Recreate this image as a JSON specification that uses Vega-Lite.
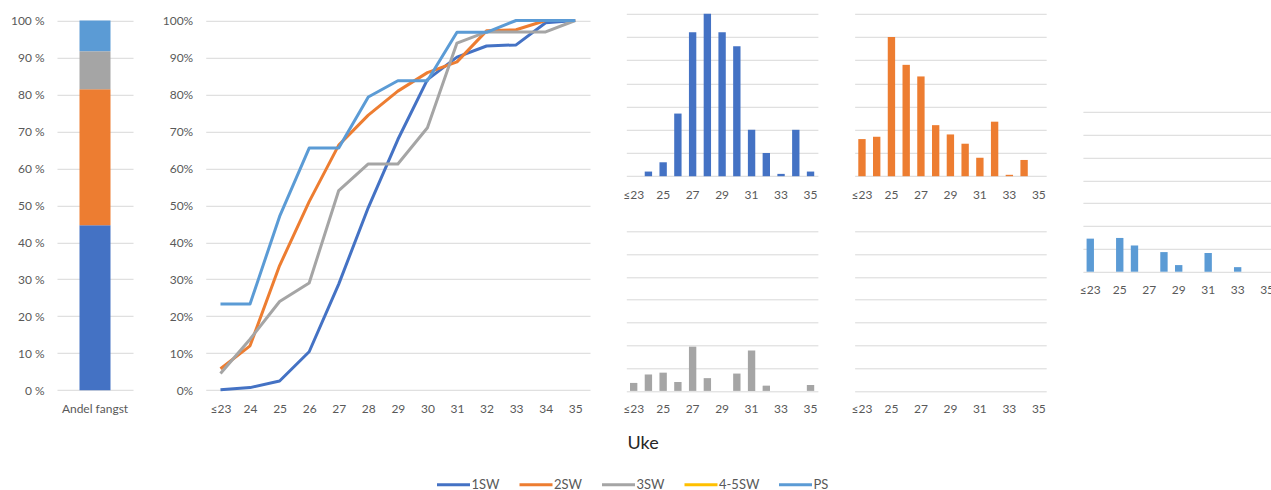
{
  "$schema": "https://vega.github.io/schema/vega-lite/v6.json",
  "background": "white",
  "padding": {"left": 10, "top": 13.8, "right": 0, "bottom": 0},
  "config": {
    "view": {"stroke": null},
    "font": "Lato",
    "axis": {
      "labelFont": "Lato",
      "labelFontSize": 12,
      "labelColor": "#595959",
      "domain": false,
      "ticks": false,
      "gridColor": "#d9d9d9",
      "gridWidth": 1,
      "labelPadding": 13
    },
    "legend": {
      "orient": "none", "legendX": 378.5, "legendY": 453, "direction": "horizontal",
      "symbolType": "stroke", "symbolSize": 1089, "symbolStrokeWidth": 3,
      "labelFont": "Lato", "labelFontSize": 13, "labelColor": "#595959",
      "columnPadding": 12.5, "labelOffset": 0, "gridAlign": "each"
    }
  },
  "datasets": {
    "fangst": [
      {"serie": "Andel fangst", "klasse": "1SW", "andel": 0.446},
      {"serie": "Andel fangst", "klasse": "2SW", "andel": 0.368},
      {"serie": "Andel fangst", "klasse": "3SW", "andel": 0.103},
      {"serie": "Andel fangst", "klasse": "4-5SW", "andel": 0},
      {"serie": "Andel fangst", "klasse": "PS", "andel": 0.083}
    ],
    "kumulativ": [
      {"uke": "≤23", "klasse": "1SW", "andel": 0.001},
      {"uke": "24", "klasse": "1SW", "andel": 0.007},
      {"uke": "25", "klasse": "1SW", "andel": 0.025},
      {"uke": "26", "klasse": "1SW", "andel": 0.104},
      {"uke": "27", "klasse": "1SW", "andel": 0.287},
      {"uke": "28", "klasse": "1SW", "andel": 0.494},
      {"uke": "29", "klasse": "1SW", "andel": 0.678},
      {"uke": "30", "klasse": "1SW", "andel": 0.84},
      {"uke": "31", "klasse": "1SW", "andel": 0.901},
      {"uke": "32", "klasse": "1SW", "andel": 0.931},
      {"uke": "33", "klasse": "1SW", "andel": 0.934},
      {"uke": "34", "klasse": "1SW", "andel": 0.994},
      {"uke": "35", "klasse": "1SW", "andel": 1.0},
      {"uke": "≤23", "klasse": "2SW", "andel": 0.058},
      {"uke": "24", "klasse": "2SW", "andel": 0.12},
      {"uke": "25", "klasse": "2SW", "andel": 0.337},
      {"uke": "26", "klasse": "2SW", "andel": 0.51},
      {"uke": "27", "klasse": "2SW", "andel": 0.663},
      {"uke": "28", "klasse": "2SW", "andel": 0.744},
      {"uke": "29", "klasse": "2SW", "andel": 0.809},
      {"uke": "30", "klasse": "2SW", "andel": 0.859},
      {"uke": "31", "klasse": "2SW", "andel": 0.888},
      {"uke": "32", "klasse": "2SW", "andel": 0.972},
      {"uke": "33", "klasse": "2SW", "andel": 0.975},
      {"uke": "34", "klasse": "2SW", "andel": 1.0},
      {"uke": "35", "klasse": "2SW", "andel": 1.0},
      {"uke": "≤23", "klasse": "3SW", "andel": 0.045},
      {"uke": "24", "klasse": "3SW", "andel": 0.138},
      {"uke": "25", "klasse": "3SW", "andel": 0.24},
      {"uke": "26", "klasse": "3SW", "andel": 0.29},
      {"uke": "27", "klasse": "3SW", "andel": 0.54},
      {"uke": "28", "klasse": "3SW", "andel": 0.612},
      {"uke": "29", "klasse": "3SW", "andel": 0.612},
      {"uke": "30", "klasse": "3SW", "andel": 0.71},
      {"uke": "31", "klasse": "3SW", "andel": 0.939},
      {"uke": "32", "klasse": "3SW", "andel": 0.969},
      {"uke": "33", "klasse": "3SW", "andel": 0.969},
      {"uke": "34", "klasse": "3SW", "andel": 0.969},
      {"uke": "35", "klasse": "3SW", "andel": 1.0},
      {"uke": "≤23", "klasse": "PS", "andel": 0.233},
      {"uke": "24", "klasse": "PS", "andel": 0.233},
      {"uke": "25", "klasse": "PS", "andel": 0.47},
      {"uke": "26", "klasse": "PS", "andel": 0.655},
      {"uke": "27", "klasse": "PS", "andel": 0.655},
      {"uke": "28", "klasse": "PS", "andel": 0.793},
      {"uke": "29", "klasse": "PS", "andel": 0.837},
      {"uke": "30", "klasse": "PS", "andel": 0.837},
      {"uke": "31", "klasse": "PS", "andel": 0.968},
      {"uke": "32", "klasse": "PS", "andel": 0.968},
      {"uke": "33", "klasse": "PS", "andel": 1.0},
      {"uke": "34", "klasse": "PS", "andel": 1.0},
      {"uke": "35", "klasse": "PS", "andel": 1.0}
    ],
    "ukentlig": [
      {"uke": "≤23", "klasse": "1SW", "antall": 0},
      {"uke": "24", "klasse": "1SW", "antall": 2},
      {"uke": "25", "klasse": "1SW", "antall": 6},
      {"uke": "26", "klasse": "1SW", "antall": 27},
      {"uke": "27", "klasse": "1SW", "antall": 62},
      {"uke": "28", "klasse": "1SW", "antall": 70},
      {"uke": "29", "klasse": "1SW", "antall": 62},
      {"uke": "30", "klasse": "1SW", "antall": 56},
      {"uke": "31", "klasse": "1SW", "antall": 20},
      {"uke": "32", "klasse": "1SW", "antall": 10},
      {"uke": "33", "klasse": "1SW", "antall": 1},
      {"uke": "34", "klasse": "1SW", "antall": 20},
      {"uke": "35", "klasse": "1SW", "antall": 2},
      {"uke": "≤23", "klasse": "2SW", "antall": 16},
      {"uke": "24", "klasse": "2SW", "antall": 17},
      {"uke": "25", "klasse": "2SW", "antall": 60},
      {"uke": "26", "klasse": "2SW", "antall": 48},
      {"uke": "27", "klasse": "2SW", "antall": 43},
      {"uke": "28", "klasse": "2SW", "antall": 22},
      {"uke": "29", "klasse": "2SW", "antall": 18},
      {"uke": "30", "klasse": "2SW", "antall": 14},
      {"uke": "31", "klasse": "2SW", "antall": 8},
      {"uke": "32", "klasse": "2SW", "antall": 23.5},
      {"uke": "33", "klasse": "2SW", "antall": 0.6},
      {"uke": "34", "klasse": "2SW", "antall": 7},
      {"uke": "35", "klasse": "2SW", "antall": 0},
      {"uke": "≤23", "klasse": "3SW", "antall": 3.5},
      {"uke": "24", "klasse": "3SW", "antall": 7.2},
      {"uke": "25", "klasse": "3SW", "antall": 8.0},
      {"uke": "26", "klasse": "3SW", "antall": 3.9},
      {"uke": "27", "klasse": "3SW", "antall": 19.4},
      {"uke": "28", "klasse": "3SW", "antall": 5.6},
      {"uke": "29", "klasse": "3SW", "antall": 0},
      {"uke": "30", "klasse": "3SW", "antall": 7.6},
      {"uke": "31", "klasse": "3SW", "antall": 17.7},
      {"uke": "32", "klasse": "3SW", "antall": 2.3},
      {"uke": "33", "klasse": "3SW", "antall": 0},
      {"uke": "34", "klasse": "3SW", "antall": 0},
      {"uke": "35", "klasse": "3SW", "antall": 2.6},
      {"uke": "≤23", "klasse": "4-5SW", "antall": 0},
      {"uke": "24", "klasse": "4-5SW", "antall": 0},
      {"uke": "25", "klasse": "4-5SW", "antall": 0},
      {"uke": "26", "klasse": "4-5SW", "antall": 0},
      {"uke": "27", "klasse": "4-5SW", "antall": 0},
      {"uke": "28", "klasse": "4-5SW", "antall": 0},
      {"uke": "29", "klasse": "4-5SW", "antall": 0},
      {"uke": "30", "klasse": "4-5SW", "antall": 0},
      {"uke": "31", "klasse": "4-5SW", "antall": 0},
      {"uke": "32", "klasse": "4-5SW", "antall": 0},
      {"uke": "33", "klasse": "4-5SW", "antall": 0},
      {"uke": "34", "klasse": "4-5SW", "antall": 0},
      {"uke": "35", "klasse": "4-5SW", "antall": 0},
      {"uke": "≤23", "klasse": "PS", "antall": 14.5},
      {"uke": "24", "klasse": "PS", "antall": 0},
      {"uke": "25", "klasse": "PS", "antall": 14.8},
      {"uke": "26", "klasse": "PS", "antall": 11.5},
      {"uke": "27", "klasse": "PS", "antall": 0},
      {"uke": "28", "klasse": "PS", "antall": 8.6},
      {"uke": "29", "klasse": "PS", "antall": 2.9},
      {"uke": "30", "klasse": "PS", "antall": 0},
      {"uke": "31", "klasse": "PS", "antall": 8.2},
      {"uke": "32", "klasse": "PS", "antall": 0},
      {"uke": "33", "klasse": "PS", "antall": 2.0},
      {"uke": "34", "klasse": "PS", "antall": 0},
      {"uke": "35", "klasse": "PS", "antall": 0}
    ]
  },
  "spacing": 32.3,
  "hconcat": [
    {
      "spacing": 72.7,
      "bounds": "flush",
      "hconcat": [
        {
          "width": 76,
          "height": 376.4,
          "data": {"name": "fangst"},
          "mark": {"type": "bar", "width": 31},
          "encoding": {
            "x": {"field": "serie", "type": "nominal", "title": null, "axis": {"labelAngle": 0}},
            "y": {
              "field": "andel", "type": "quantitative", "stack": "zero", "title": null,
              "scale": {"domain": [0, 1.0181], "nice": false},
              "axis": {"values": [0, 0.1, 0.2, 0.3, 0.4, 0.5, 0.6, 0.7, 0.8, 0.9, 1.0], "labelExpr": "replace(format(datum.value, '.0%'), '%', ' %')", "grid": true}
            },
            "color": {
              "field": "klasse", "type": "nominal",
              "scale": {"domain": ["1SW", "2SW", "3SW", "4-5SW", "PS"], "range": ["#4472C4", "#ED7D31", "#A5A5A5", "#FFC000", "#5B9BD5"]},
              "legend": {"title": null, "symbolType": "stroke"}
            },
            "order": {"field": "klasse", "sort": "ascending"}
          }
        },
        {
          "width": 384.3,
          "height": 376.4,
          "data": {"name": "kumulativ"},
          "mark": {"type": "line", "strokeWidth": 3, "strokeJoin": "round"},
          "encoding": {
            "x": {"field": "uke", "type": "ordinal", "title": null, "sort": ["≤23", "24", "25", "26", "27", "28", "29", "30", "31", "32", "33", "34", "35"], "axis": {"labelAngle": 0}},
            "y": {
              "field": "andel", "type": "quantitative", "title": null,
              "scale": {"domain": [0, 1.0181], "nice": false},
              "axis": {"values": [0, 0.1, 0.2, 0.3, 0.4, 0.5, 0.6, 0.7, 0.8, 0.9, 1.0], "format": ".0%", "grid": true}
            },
            "color": {
              "field": "klasse", "type": "nominal",
              "scale": {"domain": ["1SW", "2SW", "3SW", "4-5SW", "PS"], "range": ["#4472C4", "#ED7D31", "#A5A5A5", "#FFC000", "#5B9BD5"]},
              "legend": {"title": null, "symbolType": "stroke"}
            }
          }
        }
      ]
    },
    {
      "spacing": 54.5,
      "bounds": "flush",
      "vconcat": [
        {
          "width": 191.6,
          "height": 162.4,
          "data": {"name": "ukentlig"},
          "transform": [{"filter": "datum.klasse == '1SW'"}],
          "mark": {"type": "bar", "color": "#4472C4"},
          "encoding": {
            "x": {"field": "uke", "type": "ordinal", "title": null,
              "scale": {"domain": ["≤23", "24", "25", "26", "27", "28", "29", "30", "31", "32", "33", "34", "35"], "paddingInner": 0.5, "paddingOuter": 0.25},
              "axis": {"labelAngle": 0, "values": ["≤23", "25", "27", "29", "31", "33", "35"]}},
            "y": {"field": "antall", "type": "quantitative", "title": null,
              "scale": {"domain": [0, 70], "nice": false},
              "axis": {"values": [0, 10, 20, 30, 40, 50, 60, 70], "labels": false, "grid": true}}
          }
        },
        {
          "width": 191.6,
          "height": 159.6,
          "data": {"name": "ukentlig"},
          "transform": [{"filter": "datum.klasse == '3SW'"}],
          "mark": {"type": "bar", "color": "#A5A5A5"},
          "encoding": {
            "x": {"field": "uke", "type": "ordinal",
              "scale": {"domain": ["≤23", "24", "25", "26", "27", "28", "29", "30", "31", "32", "33", "34", "35"], "paddingInner": 0.5, "paddingOuter": 0.25},
              "axis": {"labelAngle": 0, "values": ["≤23", "25", "27", "29", "31", "33", "35"],
                "title": "Uke", "titleX": 16.3, "titleY": 52.7, "titleBaseline": "middle", "titleAlign": "center", "titleAngle": 0,
                "titleFont": "Lato", "titleFontSize": 18, "titleFontWeight": "normal", "titleColor": "#262626"}},
            "y": {"field": "antall", "type": "quantitative", "title": null,
              "scale": {"domain": [0, 70], "nice": false},
              "axis": {"values": [0, 10, 20, 30, 40, 50, 60, 70], "labels": false, "grid": true}}
          }
        }
      ]
    },
    {
      "spacing": 54.5,
      "bounds": "flush",
      "vconcat": [
        {
          "width": 191.6,
          "height": 162.4,
          "data": {"name": "ukentlig"},
          "transform": [{"filter": "datum.klasse == '2SW'"}],
          "mark": {"type": "bar", "color": "#ED7D31"},
          "encoding": {
            "x": {"field": "uke", "type": "ordinal", "title": null,
              "scale": {"domain": ["≤23", "24", "25", "26", "27", "28", "29", "30", "31", "32", "33", "34", "35"], "paddingInner": 0.5, "paddingOuter": 0.25},
              "axis": {"labelAngle": 0, "values": ["≤23", "25", "27", "29", "31", "33", "35"]}},
            "y": {"field": "antall", "type": "quantitative", "title": null,
              "scale": {"domain": [0, 70], "nice": false},
              "axis": {"values": [0, 10, 20, 30, 40, 50, 60, 70], "labels": false, "grid": true}}
          }
        },
        {
          "width": 191.6,
          "height": 159.6,
          "data": {"name": "ukentlig"},
          "transform": [{"filter": "datum.klasse == '4-5SW'"}],
          "mark": {"type": "bar", "color": "#FFC000"},
          "encoding": {
            "x": {"field": "uke", "type": "ordinal", "title": null,
              "scale": {"domain": ["≤23", "24", "25", "26", "27", "28", "29", "30", "31", "32", "33", "34", "35"], "paddingInner": 0.5, "paddingOuter": 0.25},
              "axis": {"labelAngle": 0, "values": ["≤23", "25", "27", "29", "31", "33", "35"]}},
            "y": {"field": "antall", "type": "quantitative", "title": null,
              "scale": {"domain": [0, 70], "nice": false},
              "axis": {"values": [0, 10, 20, 30, 40, 50, 60, 70], "labels": false, "grid": true}}
          }
        }
      ]
    },
    {
      "width": 191.6,
      "height": 257.9,
      "data": {"name": "ukentlig"},
      "transform": [{"filter": "datum.klasse == 'PS'"}],
      "mark": {"type": "bar", "color": "#5B9BD5"},
      "encoding": {
        "x": {"field": "uke", "type": "ordinal", "title": null,
          "scale": {"domain": ["≤23", "24", "25", "26", "27", "28", "29", "30", "31", "32", "33", "34", "35"], "paddingInner": 0.5, "paddingOuter": 0.25},
          "axis": {"labelAngle": 0, "values": ["≤23", "25", "27", "29", "31", "33", "35"]}},
        "y": {"field": "antall", "type": "quantitative", "title": null,
          "scale": {"domain": [0, 113.1], "nice": false},
          "axis": {"values": [0, 10, 20, 30, 40, 50, 60, 70], "labels": false, "grid": true}}
      }
    }
  ]
}
